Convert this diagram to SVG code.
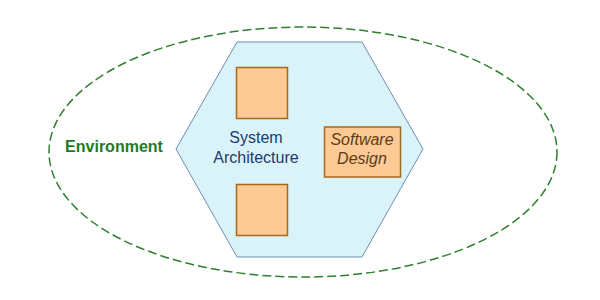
<svg xmlns="http://www.w3.org/2000/svg" width="600" height="300" viewBox="0 0 600 300">
<style>
.box{fill:#fdca96;stroke:#a8681a;stroke-width:1.5}
.lbl{font-family:"Liberation Sans",Arial,sans-serif;font-size:16px;text-anchor:middle}
</style>
<rect width="600" height="300" fill="#ffffff"/>
<g id="environment">
<ellipse cx="303" cy="152" rx="254" ry="125" fill="none" stroke="#2f7f2f" stroke-width="1.5" stroke-dasharray="9,4"/>
<text x="114" y="152" class="lbl" style="font-weight:bold;fill:#1f7a1f">Environment</text>
</g>
<g id="system-architecture">
<polygon points="237,42 362,42 423,149 362,257 237,257 176,149" fill="#d9f3f8" stroke="#6d8db3" stroke-width="1"/>
<text class="lbl" fill="#1e3a6e"><tspan x="256" y="143">System</tspan><tspan x="256" y="163">Architecture</tspan></text>
</g>
<g id="component-top"><rect class="box" x="236.5" y="67.5" width="51" height="51"/></g>
<g id="component-bottom"><rect class="box" x="236.5" y="184.5" width="51" height="51"/></g>
<g id="software-design">
<rect class="box" x="324.5" y="127" width="76" height="50"/>
<text class="lbl" style="font-style:italic" fill="#5c3a12"><tspan x="362" y="145">Software</tspan><tspan x="362" y="164">Design</tspan></text>
</g>
<g id="connectors"/>
</svg>
